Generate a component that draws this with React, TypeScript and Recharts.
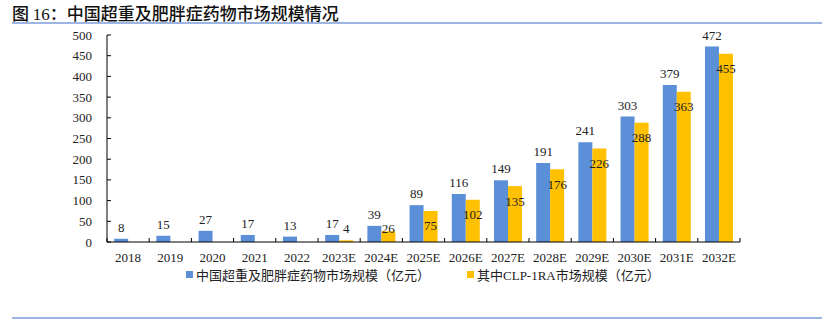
import React from 'react';
import { BarChart, Bar, XAxis, YAxis, LabelList } from 'recharts';

const years = ['2018', '2019', '2020', '2021', '2022', '2023E', '2024E', '2025E', '2026E', '2027E', '2028E', '2029E', '2030E', '2031E', '2032E'];
const totalMarket = [8, 15, 27, 17, 13, 17, 39, 89, 116, 149, 191, 241, 303, 379, 472];
const glpMarket = [null, null, null, null, null, 4, 26, 75, 102, 135, 176, 226, 288, 363, 455];
const yTicks = [0, 50, 100, 150, 200, 250, 300, 350, 400, 450, 500];

const data = years.map((year, i) => ({ year, total: totalMarket[i], glp: glpMarket[i] }));

const SERIF = '"Liberation Serif", "Times New Roman", serif';
const CJK = '"Noto Sans CJK SC", sans-serif';
const BLUE = '#5B8FD7';
const YELLOW = '#FFC000';

const W = 833;
const H = 324;
const PLOT_LEFT = 107;
const PLOT_RIGHT = 740;
const BAND = (PLOT_RIGHT - PLOT_LEFT) / years.length;

const XTick = (props: any) => {
  const { x, y, payload, index } = props;
  const left = x - BAND / 2;
  return (
    <g>
      <line x1={left} y1={y} x2={left} y2={y - 4} stroke="#000" />
      {index === years.length - 1 && <line x1={x + BAND / 2} y1={y} x2={x + BAND / 2} y2={y - 4} stroke="#000" />}
      <text x={x} y={y + 20} textAnchor="middle" fontFamily={SERIF} fontSize={13} fill="#222">
        {payload.value}
      </text>
    </g>
  );
};

const YTick = (props: any) => {
  const { x, y, payload } = props;
  return (
    <g>
      <line x1={PLOT_LEFT} y1={y} x2={PLOT_LEFT + 4} y2={y} stroke="#000" />
      <text x={x - 15} y={y + 4.5} textAnchor="end" fontFamily={SERIF} fontSize={13} fill="#222">
        {payload.value}
      </text>
    </g>
  );
};

const GlpLabel = (props: any) => {
  const { x, y, width, height, value } = props;
  if (value == null) return null;
  const top = Number(y);
  const bottom = top + Number(height);
  const cy = Math.min(top + 15, bottom - 14);
  return (
    <text x={Number(x) + Number(width) / 2} y={cy + 4.5} textAnchor="middle" fontFamily={SERIF} fontSize={13} fill="#222">
      {value}
    </text>
  );
};

const LegendBox = () => (
  <div
    style={{
      position: 'absolute',
      top: 265,
      left: 186,
      display: 'flex',
      alignItems: 'center',
      fontFamily: CJK,
      fontSize: 13,
      color: '#222',
      whiteSpace: 'nowrap',
    }}
  >
    <span style={{ display: 'inline-block', width: 7, height: 7, background: BLUE, marginRight: 3 }} />
    <span>中国超重及肥胖症药物市场规模（亿元）</span>
    <span style={{ display: 'inline-block', width: 7, height: 7, background: YELLOW, marginLeft: 37, marginRight: 3 }} />
    <span>其中<span style={{ fontFamily: SERIF }}>CLP-1RA</span>市场规模（亿元）</span>
  </div>
);

export default function App() {
  return (
    <div style={{ position: 'absolute', left: 0, top: 0, width: W, height: H, background: '#fff', overflow: 'hidden' }}>
      <div style={{ position: 'absolute', left: 12, top: 0, fontFamily: CJK, fontSize: 17, fontWeight: 500, color: '#111', whiteSpace: 'nowrap', lineHeight: '25px' }}>
        图 <span style={{ fontFamily: SERIF, fontWeight: 400 }}>16</span>：中国超重及肥胖症药物市场规模情况
      </div>
      <div style={{ position: 'absolute', left: 12, top: 22, width: 810, height: 2, background: '#9DB5E2' }} />
      <div style={{ position: 'absolute', left: 12, top: 317, width: 810, height: 2, background: '#9DB5E2' }} />
      <BarChart
        width={W}
        height={H}
        data={data}
        margin={{ top: 35, right: W - PLOT_RIGHT, left: 0, bottom: 52 }}
        barCategoryGap="17%"
        barGap={0}
      >
        <XAxis dataKey="year" height={30} axisLine={{ stroke: '#000' }} tickLine={false} tickSize={0} tickMargin={0} tick={<XTick />} interval={0} />
        <YAxis width={PLOT_LEFT} domain={[0, 500]} ticks={yTicks} axisLine={{ stroke: '#000' }} tickLine={false} tickSize={0} tickMargin={0} tick={<YTick />} interval={0} />
        <Bar dataKey="total" fill={BLUE} isAnimationActive={false}>
          <LabelList dataKey="total" position="top" offset={7} style={{ fontFamily: SERIF, fontSize: 13, fill: '#222' }} />
        </Bar>
        <Bar dataKey="glp" fill={YELLOW} isAnimationActive={false}>
          <LabelList dataKey="glp" content={<GlpLabel />} />
        </Bar>
      </BarChart>
      <LegendBox />
    </div>
  );
}
